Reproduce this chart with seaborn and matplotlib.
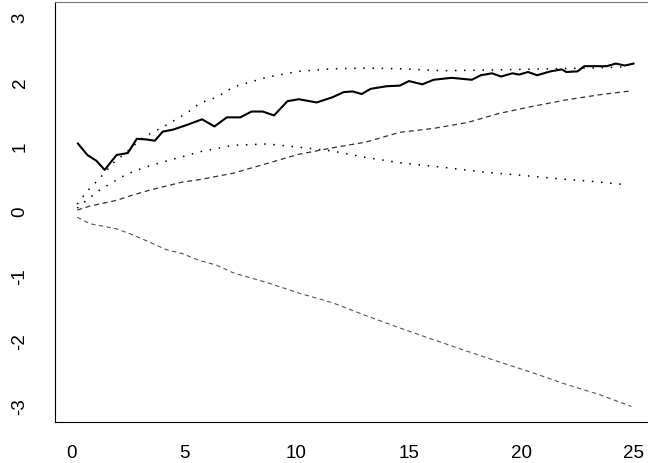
import matplotlib
matplotlib.use("Agg")
import matplotlib.pyplot as plt
import seaborn as sns
import pandas as pd

# main (solid) series
solid_x = [0.27, 0.7, 1.1, 1.47, 2.0, 2.5, 2.9, 3.3, 3.7, 4.05, 4.5, 5.1, 5.8, 6.35,
           6.9, 7.5, 8.0, 8.5, 9.0, 9.6, 10.1, 10.9, 11.6, 12.1, 12.5, 12.9, 13.3,
           14.0, 14.6, 15.0, 15.6, 16.1, 16.9, 17.8, 18.2, 18.7, 19.1, 19.6, 19.9,
           20.3, 20.7, 21.3, 21.8, 22.0, 22.5, 22.8, 23.8, 24.2, 24.6, 25.0]
solid_y = [1.06, 0.88, 0.79, 0.65, 0.88, 0.91, 1.13, 1.12, 1.10, 1.24, 1.27, 1.34, 1.43, 1.32,
           1.46, 1.46, 1.55, 1.55, 1.49, 1.71, 1.74, 1.69, 1.77, 1.85, 1.86, 1.82, 1.90,
           1.94, 1.95, 2.02, 1.97, 2.04, 2.07, 2.04, 2.11, 2.14, 2.09, 2.14, 2.12,
           2.16, 2.11, 2.17, 2.20, 2.16, 2.17, 2.25, 2.25, 2.29, 2.26, 2.29]

# dotted upper / lower bands
dot_x = [0.25, 0.66, 1.25, 1.83, 2.43, 3.17, 4.05, 5.1, 5.7, 6.45, 7.2, 8.7, 10.1,
         11.6, 13.1, 14.6, 16.5, 18.5, 19.9, 21.4, 22.9, 24.7]
dot_hi = [0.12, 0.31, 0.52, 0.75, 0.92, 1.15, 1.31, 1.52, 1.68, 1.77, 1.93, 2.08, 2.17,
          2.21, 2.22, 2.21, 2.18, 2.19, 2.20, 2.21, 2.22, 2.24]
dot_lo = [0.06, 0.18, 0.34, 0.46, 0.58, 0.68, 0.77, 0.87, 0.93, 0.98, 1.03, 1.05, 1.00,
          0.94, 0.84, 0.76, 0.69, 0.61, 0.57, 0.52, 0.48, 0.42]

# dashed upper / lower lines
dash_x = [0.25, 0.8, 2.0, 2.7, 3.5, 4.2, 4.9, 5.7, 6.45, 7.2, 8.7, 10.1, 11.6, 13.1,
          14.6, 16.1, 17.6, 19.0, 20.5, 22.0, 23.5, 24.9]
dash_hi = [0.03, 0.09, 0.18, 0.26, 0.34, 0.40, 0.46, 0.50, 0.55, 0.60, 0.75, 0.89, 0.99, 1.08,
           1.23, 1.29, 1.38, 1.52, 1.63, 1.73, 1.81, 1.87]
dash_lo = [-0.08, -0.18, -0.26, -0.35, -0.47, -0.58, -0.64, -0.75, -0.82, -0.94, -1.09, -1.25,
           -1.40, -1.60, -1.79, -1.97, -2.15, -2.31, -2.48, -2.66, -2.82, -3.0]

x_ticks = [0, 5, 10, 15, 20, 25]
y_ticks = [-3, -2, -1, 0, 1, 2, 3]

sns.set_style("white")
plt.rcParams["font.family"] = ["Liberation Sans", "DejaVu Sans"]

fig = plt.figure(figsize=(6.48, 4.63), dpi=100)
ax = fig.add_axes([55 / 648, 41 / 463, 601 / 648, 420 / 463])

sns.lineplot(x=solid_x, y=solid_y, ax=ax, color="black", linewidth=1.5)
sns.lineplot(x=dot_x, y=dot_hi, ax=ax, color="black", linewidth=1.1, linestyle=(0, (1, 5)))
sns.lineplot(x=dot_x, y=dot_lo, ax=ax, color="black", linewidth=1.1, linestyle=(0, (1, 5)))
sns.lineplot(x=dash_x, y=dash_hi, ax=ax, color="#333333", linewidth=0.9, linestyle=(0, (4, 3)))
sns.lineplot(x=dash_x, y=dash_lo, ax=ax, color="#555555", linewidth=0.8, linestyle=(0, (4, 3)))

ax.set_xlim(-0.74, 25.99)
ax.set_ylim(-3.24, 3.24)
ax.set_xticks(x_ticks)
ax.set_yticks(y_ticks)
ax.set_xticklabels([str(v) for v in x_ticks], fontsize=13.5)
ax.set_yticklabels([str(v) for v in y_ticks], fontsize=13.5, rotation=90, va="center")
ax.tick_params(axis="x", direction="out", length=7.5, width=0.8, pad=9, colors="black")
ax.tick_params(axis="y", direction="out", length=8.5, width=0.8, pad=10.5, colors="black")
for s in ax.spines.values():
    s.set_visible(True)
    s.set_color("black")
    s.set_linewidth(0.8)
ax.spines["top"].set_color("#777777")
ax.set_xlabel("")
ax.set_ylabel("")

fig.savefig("out.png", dpi=100)
